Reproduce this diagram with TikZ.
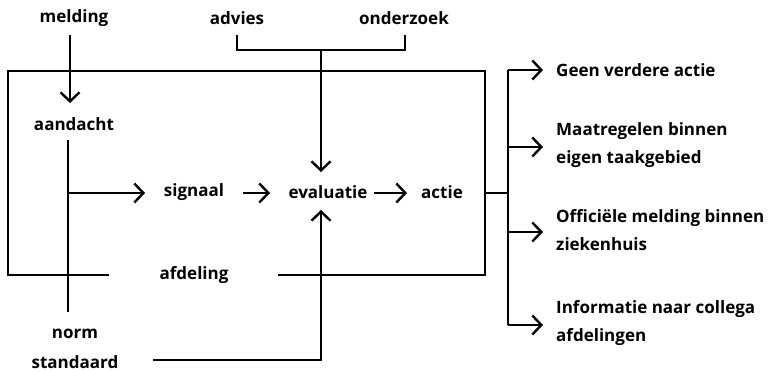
\documentclass[tikz,border=0pt]{standalone}
\usepackage{fontspec}
\setmainfont{Open Sans}
\usetikzlibrary{arrows.meta}
\begin{document}
\begin{tikzpicture}[x=1pt,y=-1pt,
  lbl/.style={font=\fontsize{17}{28}\selectfont\bfseries, inner sep=1pt, align=left},
  ln/.style={line width=2.4pt},
  arr/.style={ln,-{Straight Barb[length=9pt,width=19pt,line width=2.4pt]}}]
\useasboundingbox (0,0) rectangle (780,372);
% texts
\node[lbl] (melding) at (74,18) {melding};
\node[lbl] (advies) at (237,18) {advies};
\node[lbl] (onderzoek) at (404,18) {onderzoek};
\node[lbl] (aandacht) at (74,124) {aandacht};
\node[lbl] (signaal) at (194,192) {signaal};
\node[lbl] (evaluatie) at (328,192) {evaluatie};
\node[lbl] (actie) at (442,192) {actie};
\node[lbl] (afdeling) at (194,275) {afdeling};
\node[lbl] (norm) at (75,334) {norm};
\node[lbl] (standaard) at (75,362) {standaard};
\node[lbl, anchor=west] (geen) at (555,70) {Geen verdere actie};
\node[lbl, anchor=west] (maat) at (555,145) {Maatregelen binnen\\eigen taakgebied};
\node[lbl, anchor=west] (offi) at (555,230) {Officiële melding binnen\\ziekenhuis};
\node[lbl, anchor=west] (info) at (555,323) {Informatie naar collega\\afdelingen};
% coordinates
\coordinate (mtop) at (70,35);
\coordinate (mtip) at (70,103);
\coordinate (avl) at (237,35);
\coordinate (ovl) at (405,35);
\coordinate (bmid) at (321,50);
\coordinate (etip) at (321,172);
\coordinate (eup) at (321,210);
\coordinate (stdr) at (321,360);
\coordinate (stdl) at (153,360);
\coordinate (atop) at (68,140);
\coordinate (abot) at (68,312);
\coordinate (sl) at (68,193);
\coordinate (stip) at (145,193);
\coordinate (br) at (508,193);
\coordinate (btop) at (508,70);
\coordinate (bbot) at (508,325);
\coordinate (tipx) at (543,0);
% box
\draw[ln] (109,275) -- (8,275) -- (8,71) -- (485,71) -- (485,275) -- (278,275);
% arrows
\draw[arr] (mtop) -- (mtip);
\draw[ln] (avl) |- (bmid) -| (ovl);
\draw[arr] (bmid) -- (etip);
\draw[ln] (atop) -- (abot);
\draw[arr] (sl) -- (stip);
\draw[arr] (243,193) -- (270,193);
\draw[arr] (374,193) -- (407,193);
\draw[arr] (stdl) -- (stdr) -- (eup);
\draw[ln] (485,193) -- (br);
\draw[ln] (btop) -- (bbot);
\draw[arr] (btop) -- (btop -| tipx);
\draw[arr] (508,147) -- (543,147);
\draw[arr] (508,232) -- (543,232);
\draw[arr] (bbot) -- (bbot -| tipx);
\end{tikzpicture}
\end{document}
